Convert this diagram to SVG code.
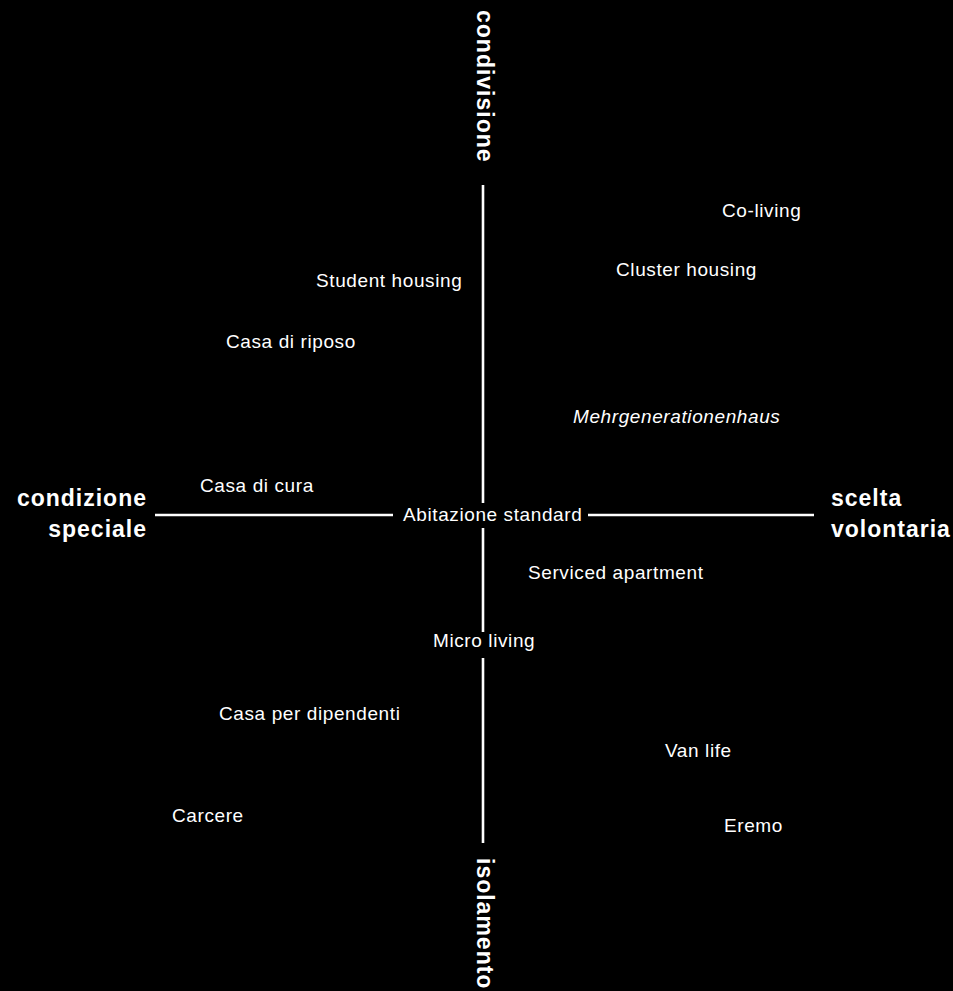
<svg xmlns="http://www.w3.org/2000/svg" width="953" height="991" viewBox="0 0 953 991">
<style>
.lbl{font-family:"Liberation Sans",Arial,Helvetica,sans-serif;font-size:19px;letter-spacing:0.6px;fill:#ffffff}
.ax{font-family:"Liberation Sans",Arial,Helvetica,sans-serif;font-size:23px;font-weight:bold;letter-spacing:1px;fill:#ffffff}
.axis{stroke:#ffffff;stroke-width:2.6;fill:none}
</style>
<rect x="0" y="0" width="953" height="991" fill="#000000"/>
<g id="connectors">
<line class="axis" x1="483" y1="185" x2="483" y2="503"/>
<line class="axis" x1="483" y1="528" x2="483" y2="632"/>
<line class="axis" x1="483" y1="658" x2="483" y2="843"/>
<line class="axis" x1="155" y1="515" x2="393" y2="515"/>
<line class="axis" x1="588" y1="515" x2="814" y2="515"/>
</g>
<g id="axis-top"><text class="ax" transform="translate(477,10) rotate(90)">condivisione</text></g>
<g id="axis-bottom"><text class="ax" transform="translate(477,858) rotate(90)">isolamento</text></g>
<g id="axis-left"><text class="ax" text-anchor="end" x="147" y="506">condizione</text><text class="ax" text-anchor="end" x="147" y="537">speciale</text></g>
<g id="axis-right"><text class="ax" x="831" y="506">scelta</text><text class="ax" x="831" y="537">volontaria</text></g>
<g id="co-living"><text class="lbl" x="722" y="217">Co-living</text></g>
<g id="cluster-housing"><text class="lbl" x="616" y="276">Cluster housing</text></g>
<g id="student-housing"><text class="lbl" x="316" y="287">Student housing</text></g>
<g id="casa-di-riposo"><text class="lbl" x="226" y="348">Casa di riposo</text></g>
<g id="mehrgenerationenhaus"><text class="lbl" x="573" y="423" font-style="italic">Mehrgenerationenhaus</text></g>
<g id="casa-di-cura"><text class="lbl" x="200" y="492">Casa di cura</text></g>
<g id="abitazione-standard"><text class="lbl" x="403" y="521">Abitazione standard</text></g>
<g id="serviced-apartment"><text class="lbl" x="528" y="579">Serviced apartment</text></g>
<g id="micro-living"><text class="lbl" x="433" y="647">Micro living</text></g>
<g id="casa-per-dipendenti"><text class="lbl" x="219" y="720">Casa per dipendenti</text></g>
<g id="van-life"><text class="lbl" x="665" y="757">Van life</text></g>
<g id="carcere"><text class="lbl" x="172" y="822">Carcere</text></g>
<g id="eremo"><text class="lbl" x="724" y="832">Eremo</text></g>
</svg>
